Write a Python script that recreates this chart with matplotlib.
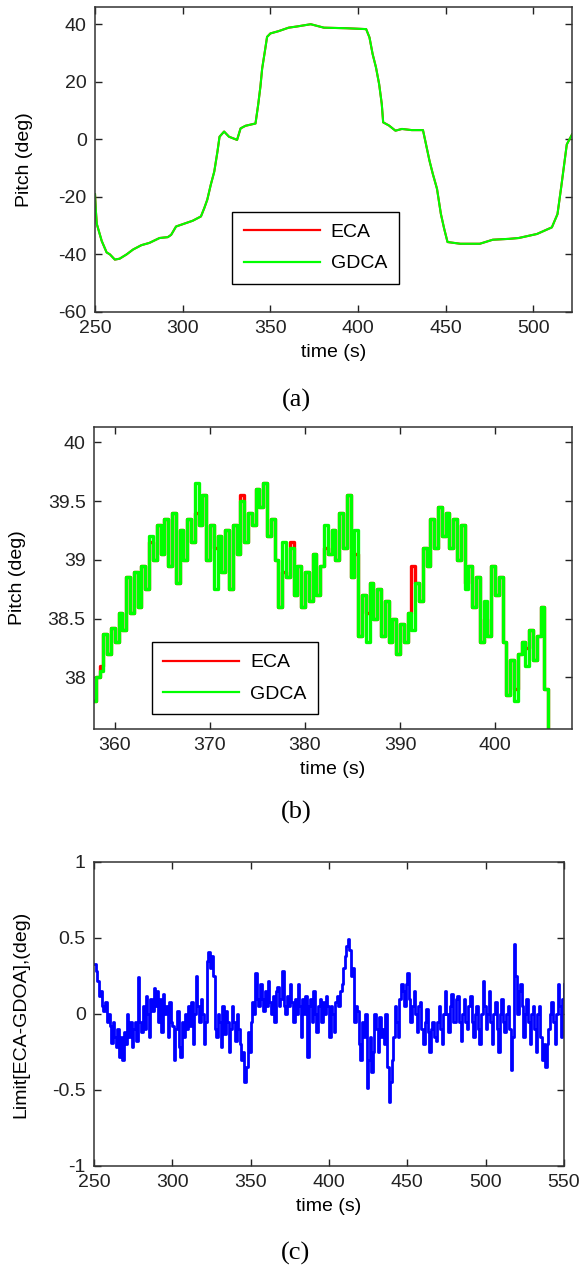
import numpy as np
import matplotlib.pyplot as plt
from matplotlib.ticker import FuncFormatter

plt.rcParams['font.family'] = ['Liberation Sans', 'DejaVu Sans']
plt.rcParams['axes.unicode_minus'] = False

# (a) pitch over the whole run
time_a = [250, 250.5, 251, 253.8, 256.6, 258.5, 261.3, 264, 268, 271.7,
          276.4, 281, 286.8, 291.5, 293.4, 296.2, 300, 305.7, 310.4, 312.3,
          314, 316, 318, 319.8, 321, 323.6, 326.4, 331, 333, 335.8,
          341.5, 343, 344.3, 345.3, 346.8, 348.1, 350, 354.7, 360.4, 365,
          373, 380.5, 393.5, 404.6, 406.5, 408.3, 410.2, 412, 413.5, 414.3,
          417.6, 421.3, 425, 430.6, 437, 438.3, 440.7, 442.6, 445, 447.2,
          449.1, 451, 458.3, 469.4, 476.8, 486, 491.6, 502, 510.5, 513.7,
          515.8, 519, 522]
gdca_a = [-19.1, -25, -29.4, -35.3, -39.3, -40, -41.8, -41.5, -40, -38.3,
          -36.8, -36, -34.3, -34, -33.2, -30.3, -29.5, -28.3, -26.8, -23.9,
          -21, -15.8, -11.2, -4.3, 0.9, 2.7, 0.9, -0.2, 3.8, 4.7,
          5.5, 11.9, 18.3, 24.6, 30.4, 35.6, 36.8, 37.6, 38.8, 39.2,
          40, 38.8, 38.6, 38.3, 35.4, 29.6, 25, 19.2, 12.3, 5.9,
          4.8, 3, 3.6, 3.2, 3.2, -0.5, -7.4, -12, -17.2, -25.9,
          -31.1, -35.7, -36.3, -36.3, -34.9, -34.6, -34.3, -32.9, -30.6, -26,
          -16.7, -1.8, 1.7]
eca_a = list(gdca_a)

# (b) zoom on the level part, samples every 0.4 s from 357.6 s
time_b = np.arange(357.6, 405.7, 0.4)
gdca_b = [37.8, 38.0, 38.05, 38.37, 38.2, 38.42, 38.3, 38.55, 38.4, 38.85,
          38.55, 38.9, 38.6, 38.95, 38.75, 39.2, 39.0, 39.3, 39.05, 39.35,
          38.95, 39.4, 38.8, 39.25, 39.0, 39.35, 39.15, 39.65, 39.3, 39.55,
          39.0, 39.3, 38.75, 39.2, 38.9, 39.25, 38.75, 39.3, 39.05, 39.5,
          39.15, 39.4, 39.3, 39.6, 39.45, 39.65, 39.2, 39.35, 39.0, 38.6,
          39.15, 38.85, 39.1, 38.7, 38.95, 38.6, 38.9, 38.65, 39.05, 38.7,
          38.95, 39.3, 39.05, 39.25, 39.0, 39.4, 39.1, 39.55, 38.85, 39.25,
          38.35, 38.7, 38.3, 38.8, 38.5, 38.75, 38.35, 38.65, 38.3, 38.5,
          38.2, 38.45, 38.3, 38.55, 38.4, 38.8, 38.65, 39.1, 38.95, 39.35,
          39.1, 39.45, 39.2, 39.4, 39.1, 39.35, 39.0, 39.3, 38.75, 38.95,
          38.6, 38.85, 38.3, 38.65, 38.35, 38.95, 38.7, 38.85, 38.3, 37.85,
          38.15, 37.8, 38.2, 38.3, 38.1, 38.4, 38.15, 38.35, 38.6, 37.9,
          37.5]
# where the red ECA trace shows beside the green one
eca_b_idx = [2, 15, 27, 32, 39, 50, 52, 61, 69, 72, 84, 98, 103, 106, 111, 114]
eca_b_val = [38.1, 39.15, 39.4, 39.1, 39.55, 38.9, 39.15, 39.1, 39.05, 38.55,
             38.95, 38.8, 38.5, 38.7, 37.9, 38.25]
eca_b = list(gdca_b)
for i, v in zip(eca_b_idx, eca_b_val):
    eca_b[i] = v

# (c) difference, one sample per second from 250 s
time_c = np.arange(250, 551, 1)
diff_c = [0.33, 0.28, 0.22, 0.12, 0.15, 0.05, 0.02, 0.08, -0.05, 0.0,
          -0.08, -0.19, -0.05, -0.15, -0.22, -0.1, -0.28, -0.15, -0.3, -0.12,
          -0.2, 0.0, -0.15, -0.05, -0.22, -0.1, -0.05, -0.18, 0.24, -0.05,
          -0.12, 0.05, -0.1, 0.12, 0.0, -0.15, 0.1, 0.02, 0.17, 0.05,
          0.15, -0.05, 0.1, -0.12, 0.13, 0.0, 0.05, -0.15, 0.08, -0.05,
          -0.08, -0.3, -0.1, 0.02, -0.22, -0.28, -0.05, -0.15, 0.0, -0.1,
          0.05, -0.08, 0.08, -0.2, 0.0, 0.25, 0.05, -0.05, 0.1, 0.0,
          -0.2, -0.05, 0.35, 0.41, 0.3, 0.38, 0.25, -0.1, -0.15, 0.0,
          -0.05, -0.22, 0.05, -0.13, 0.02, -0.05, -0.25, -0.1, 0.05, -0.05,
          -0.18, 0.0, -0.1, -0.2, -0.3, -0.25, -0.45, -0.35, -0.12, -0.25,
          -0.05, 0.08, 0.0, 0.27, 0.1, 0.05, 0.2, 0.1, 0.02, 0.15,
          0.05, 0.22, 0.08, 0.0, 0.12, -0.05, 0.15, 0.18, 0.05, 0.1,
          0.28, 0.05, 0.0, 0.12, 0.05, 0.2, 0.08, -0.05, 0.1, 0.0,
          0.2, 0.05, -0.15, 0.1, 0.0, 0.12, -0.28, 0.05, 0.1, -0.05,
          0.15, 0.0, -0.12, 0.05, 0.1, -0.05, 0.08, 0.0, 0.12, 0.05,
          -0.15, 0.05, 0.0, -0.12, 0.08, 0.12, 0.05, 0.15, 0.2, 0.3,
          0.38, 0.45, 0.49, 0.42, 0.25, 0.3, -0.05, 0.05, 0.02, -0.2,
          -0.3, -0.05, -0.15, 0.0, -0.49, -0.3, -0.15, -0.38, -0.25, 0.0,
          -0.1, -0.25, -0.02, -0.15, -0.1, -0.2, 0.0, -0.35, -0.58, -0.45,
          -0.3, -0.15, 0.05, -0.05, -0.15, 0.1, 0.2, 0.15, 0.05, 0.2,
          0.27, 0.1, -0.05, 0.05, 0.15, 0.0, -0.12, 0.05, 0.08, -0.1,
          -0.2, -0.05, 0.03, -0.12, -0.25, -0.1, -0.05, -0.15, -0.18, -0.05,
          0.05, -0.1, -0.2, 0.0, 0.15, 0.0, -0.12, 0.05, 0.13, -0.05,
          -0.05, 0.1, 0.12, -0.05, -0.18, 0.0, 0.1, -0.05, -0.1, 0.05,
          0.12, -0.05, -0.15, 0.0, 0.05, -0.1, -0.2, 0.0, 0.22, 0.05,
          -0.1, 0.0, 0.15, -0.05, -0.2, 0.0, 0.08, -0.1, -0.25, 0.0,
          0.1, -0.05, -0.12, 0.0, 0.05, -0.1, -0.37, -0.15, 0.46, 0.25,
          0.0, 0.15, 0.2, 0.05, -0.15, 0.0, 0.1, -0.05, -0.2, 0.0,
          0.05, -0.1, -0.25, 0.0, 0.05, -0.15, -0.3, -0.2, -0.35, -0.2,
          -0.1, 0.0, 0.08, -0.05, -0.2, 0.0, 0.2, 0.05, -0.15, 0.1,
          0.2]

FS = 14

fig = plt.figure(figsize=(5.83, 12.65), dpi=100)
ax1 = fig.add_axes([0.1630, 0.7534, 0.8182, 0.2411])
ax2 = fig.add_axes([0.1612, 0.4237, 0.8199, 0.2387])
ax3 = fig.add_axes([0.1612, 0.0783, 0.8062, 0.2403])


def style(ax, ylab, ylab_x):
    ax.tick_params(direction='in', top=True, right=True, length=5,
                   width=1, labelsize=FS, pad=6, colors='#222222')
    for s in ax.spines.values():
        s.set_linewidth(1.1)
        s.set_color('#333333')
    ax.set_xlabel('time (s)', fontsize=FS, labelpad=5)
    ax.set_ylabel(ylab, fontsize=FS)
    ax.yaxis.set_label_coords(ylab_x, 0.5)


def legend(ax, anchor):
    lg = ax.legend(loc='upper left', bbox_to_anchor=anchor, fontsize=FS,
                   handlelength=3.9, handletextpad=0.55, labelspacing=0.7,
                   borderpad=0.6, borderaxespad=0, fancybox=False,
                   framealpha=1, edgecolor='black')
    lg.get_frame().set_linewidth(1.0)
    for h in lg.get_lines():
        h.set_linewidth(1.6)


# panel (a)
ax1.plot(time_a, eca_a, color='red', lw=1.5, label='ECA')
ax1.plot(time_a, gdca_a, color='#00ff00', lw=1.5, label='GDCA')
ax1.set_xlim(250, 522)
ax1.set_ylim(-60, 46)
ax1.set_xticks([250, 300, 350, 400, 450, 500])
ax1.set_yticks([-60, -40, -20, 0, 20, 40])
style(ax1, 'Pitch (deg)', -0.13)
legend(ax1, (0.288, 0.328))

# panel (b)
ax2.plot(time_b, eca_b, color='red', lw=2.4, drawstyle='steps-post', label='ECA')
ax2.plot(time_b, gdca_b, color='#00ff00', lw=2.4, drawstyle='steps-post', label='GDCA')
ax2.set_xlim(357.8, 408.1)
ax2.set_ylim(37.56, 40.13)
ax2.set_xticks([360, 370, 380, 390, 400])
ax2.set_yticks([38, 38.5, 39, 39.5, 40])
ax2.yaxis.set_major_formatter(FuncFormatter(lambda v, p: '%g' % v))
style(ax2, 'Pitch (deg)', -0.142)
legend(ax2, (0.121, 0.288))

# panel (c)
ax3.plot(time_c, diff_c, color='blue', lw=2.0, drawstyle='steps-post')
ax3.set_xlim(250, 550)
ax3.set_ylim(-1, 1)
ax3.set_xticks([250, 300, 350, 400, 450, 500, 550])
ax3.set_yticks([-1, -0.5, 0, 0.5, 1])
ax3.yaxis.set_major_formatter(FuncFormatter(lambda v, p: '%g' % v))
style(ax3, 'Limit[ECA-GDOA],(deg)', -0.138)

for y, s in [(400, '(a)'), (812, '(b)'), (1253, '(c)')]:
    fig.text(296 / 583, 1 - y / 1265, s, ha='center', va='center',
             fontsize=19, family=['Liberation Serif', 'DejaVu Serif'])

fig.savefig('out.png', dpi=100)
